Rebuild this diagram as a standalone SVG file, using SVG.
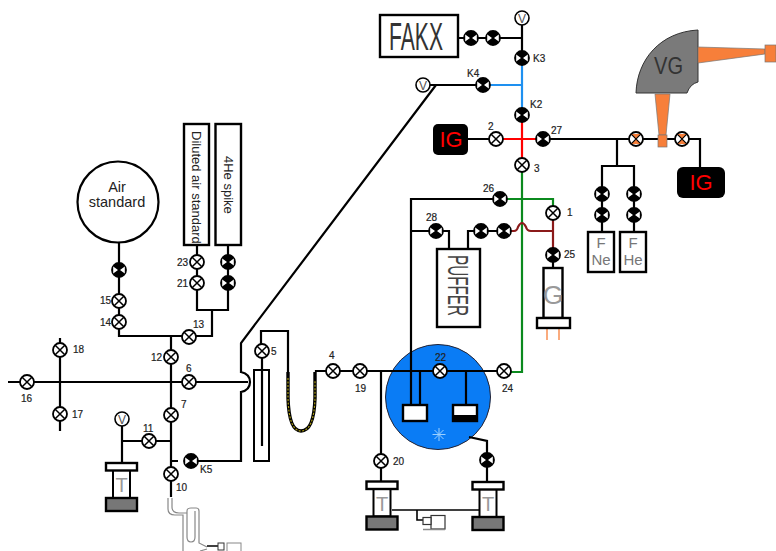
<svg xmlns="http://www.w3.org/2000/svg" width="776" height="551" viewBox="0 0 776 551">
<style>
text{font-family:"Liberation Sans",Arial,sans-serif}
.lb{font-size:10px;fill:#222;stroke:#222;stroke-width:.2px}
.l{fill:none;stroke:#000;stroke-width:2.2}
.t{fill:none;stroke:#000;stroke-width:1.6}
.box{fill:#fff;stroke:#000;stroke-width:2.4}
.g{fill:none;stroke:#888;stroke-width:1.2}
</style>
<defs>
<g id="vo"><circle r="7" fill="#fff" stroke="#000" stroke-width="1.8"/><path d="M-4.8-4.8L4.8 4.8M4.8-4.8L-4.8 4.8" stroke="#000" stroke-width="1.500"/></g>
<g id="vc"><circle r="7" fill="#000" stroke="#000" stroke-width="1.8"/><path d="M-5.800-3.400L-1 0L-5.800 3.400zM5.800-3.400L1 0L5.800 3.400z" fill="#fff"/></g>
<g id="vr"><circle r="7" fill="#fff" stroke="#000" stroke-width="1.800"/><path d="M-5-5L5-5L0 0L5 5L-5 5L0 0z" fill="#f77f3a"/><path d="M-4.800-4.800L4.800 4.800M4.800-4.800L-4.800 4.800" stroke="#000" stroke-width="1.200"/></g>
<g id="gauge"><circle r="7" fill="#fff" stroke="#000" stroke-width="1.600"/><text y="4.500" text-anchor="middle" font-size="12" fill="#555">V</text></g>
<g id="pump">
<rect x="-8.500" y="7" width="17" height="28" fill="#fff" stroke="#000" stroke-width="2"/>
<rect x="-15.500" y="0" width="31" height="7.500" class="box"/>
<rect x="-15.500" y="35" width="31" height="13" fill="#777" stroke="#000" stroke-width="2.400"/>
<text y="29" text-anchor="middle" font-size="20" fill="#999">T</text>
</g>
</defs>

<g id="blue-vessel"><circle cx="438" cy="397" r="52.500" fill="#0a7cf5" stroke="#223" stroke-width="1"/></g>

<g id="connectors">
<path class="l" d="M458 38H522M522 25V51"/>
<path class="l" d="M430 85H476"/>
<path d="M490 85H522M522 65V108" fill="none" stroke="#1e90f0" stroke-width="2.200"/>
<path d="M522 122V158M503 139H536" fill="none" stroke="#f00" stroke-width="2.200"/>
<path class="l" d="M468 139H489M550 139H629M617 139V166M602 187V166H634V187M602 201V208M634 201V208M602 222V232M634 222V232M689 139H700V167"/>
<path class="l" d="M643 139H658M667 139H675"/>
<path class="l" d="M436 85L241 343V372Q250 374 250 382Q250 390 241 392V461H198M178 461H171"/>
<path d="M522 172V372H511M507 199H553V207" fill="none" stroke="#0b8a1e" stroke-width="2.200"/>
<path class="l" d="M493 199H411V404M429 231H411M443 231H449V249M468 249V231H474M488 231H497"/>
<path d="M511 231H514Q517 231 518 227Q522 219 526 227Q527 231 531 231H553M553 220V248" fill="none" stroke="#8b1a1a" stroke-width="2.200"/>
<path class="l" d="M553 262V268"/>
<path d="M547 328V340M559 328V340" stroke="#f77f3a" stroke-width="1.300" fill="none"/>
<path class="l" d="M8 382H248M60 338V431M171 336V350M171 364V408M171 422V467M171 481V497"/>
<path class="l" d="M119 243V263M119 277V294M119 308V315M119 329V336H182M196 336H212V310M197 245V255M197 269V276M197 290V310H228V290M228 245V255M228 269V276"/>
<path class="l" d="M122 426V463M122 441H142M156 441H171"/>
<path class="l" d="M261 344V331H288V372M326 371H316V372M340 371H353M367 371H497"/>
<path d="M288 372V398Q289 431 301 431Q314 431 315 398V372" fill="none" stroke="#000" stroke-width="3.400"/>
<path d="M288 378V398Q289 431 301 431Q314 431 315 398V380" fill="none" stroke="#a89a10" stroke-width="1.200" stroke-dasharray="2 1.500"/>
<path class="l" d="M381 371V454M381 468V481M420 405V371H433M466 371V405"/>
<path class="l" d="M469 437L487 441V453M487 467V482"/>
<path class="t" d="M392 510H480M417 510V520H423"/>
<path class="g" d="M168 498V509Q168 515 175 515H183V551M172 498V507Q172 513 179 513H187M187 537V511Q187 508 191 508H196Q199 508 199 511V543L207 547M187 537Q187 542 191 542Q195 542 195 537V511M200 551L207 549"/>
<path d="M207 546H218" stroke="#000" stroke-width="1.500"/>
</g>

<g id="fakx"><rect x="380" y="15" width="78" height="42" class="box"/><text x="389" y="50" font-size="38" textLength="54" lengthAdjust="spacingAndGlyphs" fill="#333">FAKX</text></g>
<g id="ig1"><rect x="433" y="124" width="35" height="31" rx="5" fill="#000"/><text x="451" y="147" text-anchor="middle" font-size="22" fill="#f00">IG</text></g>
<g id="ig2"><rect x="677" y="167" width="48" height="31" rx="6" fill="#000"/><text x="701" y="190" text-anchor="middle" font-size="22" fill="#f00">IG</text></g>

<g id="vg">
<path d="M698 30V82Q690 84 687 93H636C637 60 660 32 698 30Z" fill="#7a7a7a" stroke="#333" stroke-width="1"/>
<text x="654" y="74" font-size="24" fill="#333" textLength="29" lengthAdjust="spacingAndGlyphs">VG</text>
<path d="M698 47L765 49V54L698 63Z" fill="#f77f3a" stroke="#777" stroke-width=".7"/>
<rect x="765" y="45" width="11" height="17" fill="#f77f3a" stroke="#777" stroke-width=".7"/>
<path d="M655 94H670L666 135H659Z" fill="#f77f3a" stroke="#777" stroke-width=".7"/>
<rect x="658" y="135" width="9" height="12" fill="#f77f3a" stroke="#777" stroke-width=".7"/>
</g>

<g id="fne"><rect x="588" y="232" width="26" height="40" class="box"/><text x="601" y="248" font-size="15" fill="#777" text-anchor="middle">F</text><text x="601" y="265" font-size="15" fill="#777" text-anchor="middle">Ne</text></g>
<g id="fhe"><rect x="620" y="232" width="26" height="40" class="box"/><text x="633" y="248" font-size="15" fill="#777" text-anchor="middle">F</text><text x="633" y="265" font-size="15" fill="#777" text-anchor="middle">He</text></g>

<g id="puffer"><rect x="437" y="249" width="43" height="78" class="box"/><text transform="translate(448 255) rotate(90)" font-size="29" fill="#444" textLength="61" lengthAdjust="spacingAndGlyphs">PUFFER</text></g>

<g id="g-gauge"><rect x="543.500" y="268" width="19" height="50" class="box"/><text x="553" y="304" text-anchor="middle" font-size="26" fill="#999">G</text><rect x="537" y="318" width="33" height="10" class="box"/></g>

<g id="air"><circle cx="118" cy="202" r="40.500" fill="#fff" stroke="#000" stroke-width="2.200"/><text x="117" y="192" text-anchor="middle" font-size="14.500" fill="#222">Air</text><text x="117" y="207" text-anchor="middle" font-size="14.500" fill="#222">standard</text></g>
<g id="diluted"><rect x="184" y="124" width="25" height="121" class="box"/><text transform="translate(192 131) rotate(90)" font-size="13" fill="#222">Diluted air standard</text></g>
<g id="spike"><rect x="215.500" y="124" width="25.500" height="121" class="box"/><text transform="translate(223.500 156) rotate(90)" font-size="13" fill="#222">4He spike</text></g>

<g id="trap"><rect x="254" y="370" width="15" height="91" fill="none" stroke="#000" stroke-width="2"/><path class="l" d="M262 358V446"/></g>

<g id="cells">
<rect x="403" y="405" width="24" height="16" fill="#fff" stroke="#000" stroke-width="2.400"/>
<rect x="453" y="405" width="24" height="16" fill="#fff" stroke="#000" stroke-width="2.400"/>
<rect x="453" y="415" width="24" height="6" fill="#000"/>
<path d="M439 428V441M432.500 434.500H445.500M434.500 430L443.500 439M443.500 430L434.500 439" stroke="#9cd0ff" stroke-width="1"/>
</g>

<g id="pumps">
<use href="#pump" x="121.500" y="463"/>
<use href="#pump" x="382" y="481.500"/>
<use href="#pump" x="488" y="482"/>
<rect x="431" y="515.500" width="14" height="13.500" fill="#fff" stroke="#333" stroke-width="1.200"/>
<rect x="423" y="517.500" width="8" height="7" fill="#fff" stroke="#333" stroke-width="1.200"/>
<path d="M423 529.500H445" stroke="#888" stroke-width="1.500"/>
<rect x="218" y="543" width="6" height="7" fill="#fff" stroke="#333" stroke-width="1"/>
<rect x="227" y="543" width="14" height="9" fill="#fff" stroke="#888" stroke-width="1"/>
</g>

<g id="gauges">
<use href="#gauge" x="522" y="18"/><use href="#gauge" x="423" y="85"/><use href="#gauge" x="122" y="419"/>
</g>

<g id="valves">
<use href="#vc" x="471" y="38"/><use href="#vc" x="493" y="38"/><use href="#vc" x="522" y="58"/><use href="#vc" x="483" y="85"/><use href="#vc" x="522" y="115"/><use href="#vo" x="496" y="139"/><use href="#vc" x="543" y="139"/><use href="#vo" x="522" y="165"/>
<use href="#vr" x="636" y="139"/><use href="#vr" x="682" y="139"/>
<use href="#vc" x="602" y="194"/><use href="#vc" x="602" y="215"/><use href="#vc" x="634" y="194"/><use href="#vc" x="634" y="215"/>
<use href="#vc" x="500" y="199"/><use href="#vo" x="553" y="213"/><use href="#vc" x="436" y="231"/><use href="#vc" x="481" y="231"/><use href="#vc" x="504" y="231"/><use href="#vc" x="553" y="255"/>
<use href="#vo" x="440" y="371"/><use href="#vo" x="504" y="371"/><use href="#vo" x="360" y="371"/><use href="#vo" x="333" y="371"/><use href="#vo" x="381" y="461"/><use href="#vc" x="487" y="460"/>
<use href="#vo" x="262" y="351"/>
<use href="#vo" x="27" y="382"/><use href="#vo" x="60" y="350"/><use href="#vo" x="60" y="414"/><use href="#vo" x="171" y="357"/><use href="#vo" x="189" y="382"/><use href="#vo" x="171" y="415"/><use href="#vo" x="189" y="337"/><use href="#vo" x="119" y="322"/><use href="#vo" x="119" y="301"/><use href="#vc" x="119" y="270"/>
<use href="#vo" x="197" y="262"/><use href="#vo" x="197" y="283"/>
<use href="#vc" x="228" y="262"/><use href="#vc" x="228" y="283"/>
<use href="#vo" x="149" y="441"/><use href="#vc" x="191" y="461"/><use href="#vo" x="171" y="474"/>
</g>

<g id="labels">
<text class="lb" x="533" y="62">K3</text><text class="lb" x="467" y="77">K4</text><text class="lb" x="530" y="108">K2</text>
<text class="lb" x="488" y="130">2</text><text class="lb" x="551" y="134">27</text><text class="lb" x="534" y="172">3</text>
<text class="lb" x="483" y="192">26</text><text class="lb" x="426" y="221">28</text><text class="lb" x="567" y="216">1</text><text class="lb" x="564" y="258">25</text>
<text class="lb" x="435" y="361">22</text><text class="lb" x="355" y="392">19</text><text class="lb" x="502" y="392">24</text><text class="lb" x="393" y="465">20</text>
<text class="lb" x="271" y="355">5</text><text class="lb" x="329" y="359">4</text>
<text class="lb" x="186" y="372">6</text><text class="lb" x="181" y="408">7</text><text class="lb" x="151" y="361">12</text><text class="lb" x="193" y="328">13</text><text class="lb" x="100" y="326">14</text><text class="lb" x="100" y="304">15</text>
<text class="lb" x="73" y="353">18</text><text class="lb" x="72" y="418">17</text><text class="lb" x="21" y="402">16</text>
<text class="lb" x="177" y="266">23</text><text class="lb" x="177" y="287">21</text>
<text class="lb" x="143" y="432">11</text><text class="lb" x="200" y="473">K5</text><text class="lb" x="176" y="491">10</text>
</g>
</svg>
